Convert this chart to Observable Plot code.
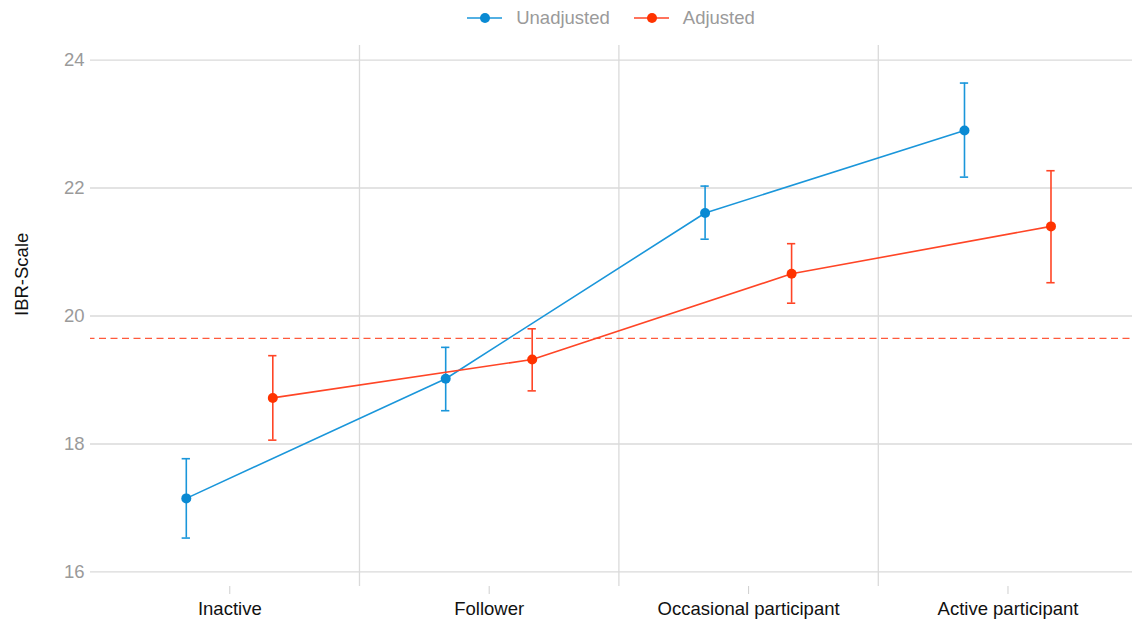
<!DOCTYPE html>
<html><head><meta charset="utf-8">
<script src="https://cdn.jsdelivr.net/npm/d3@7"></script>
<script src="https://cdn.jsdelivr.net/npm/@observablehq/plot@0.6"></script>
<style>
body{margin:0;background:#fff;font-family:"Liberation Sans",Arial,sans-serif;}
#legend{height:36px;display:flex;align-items:center;justify-content:center;padding-left:90px;box-sizing:border-box;width:1132px;font-size:18.5px;color:#9a9a9a;}
.item{display:flex;align-items:center;margin:0 12px;}
.item svg{margin-right:14px;}
</style></head><body>
<div id="legend"></div>
<div id="chart"></div>
<script>
const categories = ["Inactive", "Follower", "Occasional participant", "Active participant"];
const series = ["Unadjusted", "Adjusted"];
const unadjMean = [17.15, 19.02, 21.61, 22.90];
const unadjLow  = [16.53, 18.52, 21.20, 22.17];
const unadjHigh = [17.77, 19.51, 22.03, 23.64];
const adjMean = [18.72, 19.32, 20.66, 21.40];
const adjLow  = [18.06, 18.83, 20.20, 20.52];
const adjHigh = [19.38, 19.80, 21.13, 22.27];
const referenceLine = 19.65;
const yTicks = [16, 18, 20, 22, 24];

const colors = {Unadjusted: "#1a96da", Adjusted: "#ff4526"};
const dotColors = {Unadjusted: "#0a8ad3", Adjusted: "#ff3300"};
const offsets = {Unadjusted: -43.5, Adjusted: 43};

const rows = [];
categories.forEach((c, i) => {
  rows.push({series: "Unadjusted", cat: c, idx: i, mean: unadjMean[i], low: unadjLow[i], high: unadjHigh[i]});
  rows.push({series: "Adjusted", cat: c, idx: i, mean: adjMean[i], low: adjLow[i], high: adjHigh[i]});
});

// legend
const legend = document.getElementById("legend");
series.forEach(s => {
  const d = document.createElement("div");
  d.className = "item";
  d.innerHTML = `<svg width="35" height="14"><line x1="0" x2="35" y1="7" y2="7" stroke="${colors[s]}" stroke-width="1.5"/><circle cx="18" cy="7" r="5" fill="${dotColors[s]}"/></svg><span>${s}</span>`;
  legend.appendChild(d);
});

const cap = 0.016;
const marks = [
  Plot.ruleY(yTicks, {stroke: "#dadada", strokeWidth: 1.3}),
  Plot.ruleX([0.5, 1.5, 2.5], {stroke: "#dadada", strokeWidth: 1.3}),
  Plot.ruleY([referenceLine], {stroke: "#ff5a3c", strokeWidth: 1.4, strokeDasharray: "7,4.5", strokeDashoffset: -9}),
];
series.forEach(s => {
  const data = rows.filter(d => d.series === s);
  const dx = offsets[s];
  marks.push(
    Plot.line(data, {x: "idx", y: "mean", stroke: colors[s], strokeWidth: 1.6, dx}),
    Plot.ruleX(data, {x: "idx", y1: "low", y2: "high", stroke: colors[s], strokeWidth: 1.6, dx}),
    Plot.ruleY(data, {y: "low", x1: d => d.idx - cap, x2: d => d.idx + cap, stroke: colors[s], strokeWidth: 1.6, dx}),
    Plot.ruleY(data, {y: "high", x1: d => d.idx - cap, x2: d => d.idx + cap, stroke: colors[s], strokeWidth: 1.6, dx}),
    Plot.dot(data, {x: "idx", y: "mean", r: 5, fill: dotColors[s], dx})
  );
});
marks.push(
  Plot.axisY({ticks: yTicks, tickSize: 0, tickPadding: 6, fontSize: 18.5, color: "#9a9a9a", label: null}),
  Plot.axisX({ticks: [0, 1, 2, 3], tickFormat: i => categories[i], tickSize: 8, tickPadding: 7, fontSize: 18.5, stroke: "#cfcfcf", fill: "#111", label: null}),
  Plot.text(["IBR-Scale"], {frameAnchor: "left", rotate: -90, dx: -68, fontSize: 18.5, fill: "#111"})
);

const chart = Plot.plot({
  width: 1132,
  height: 590,
  marginLeft: 90,
  marginRight: 0,
  marginTop: 9,
  marginBottom: 40,
  x: {type: "linear", domain: [-0.537, 3.48]},
  y: {domain: [15.773, 24.227]},
  style: {fontFamily: "Liberation Sans, Arial, sans-serif", background: "#fff"},
  marks
});
document.getElementById("chart").appendChild(chart);
</script>
</body></html>
